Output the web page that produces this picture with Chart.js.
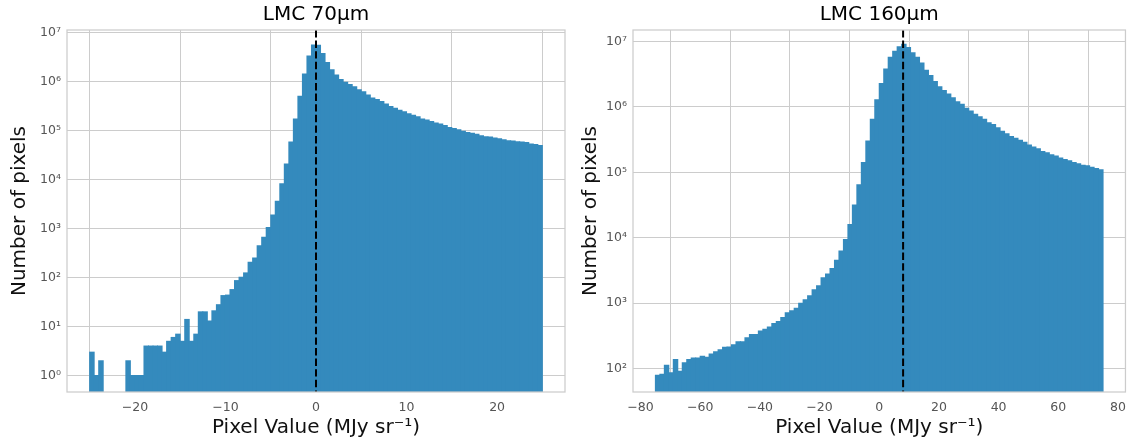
<!DOCTYPE html>
<html>
<head>
<meta charset="utf-8">
<script src="https://cdn.jsdelivr.net/npm/chart.js@4.4.1/dist/chart.umd.min.js"></script>
<style>
  html, body { margin: 0; padding: 0; background: #fff; }
  #wrap { position: relative; width: 1134px; height: 444px; }
  .box { position: absolute; top: 0; width: 567px; height: 444px; }
</style>
</head>
<body>
<div id="wrap">
  <div class="box" style="left:0"><canvas id="c70" width="567" height="444"></canvas></div>
  <div class="box" style="left:567px"><canvas id="c160" width="567" height="444"></canvas></div>
</div>
<script>
// LMC 70um histogram: 100 bins of 0.5 MJy/sr from -25 to 25
const binStart70 = -25;
const binWidth70 = 0.5;
const counts70 = [
  3, 1, 2, 0, 0, 0, 0, 0, 2, 1,
  1, 1, 4, 4, 4, 4, 3, 5, 6, 7,
  5, 14, 5, 7, 20, 20, 13, 21, 28, 43,
  44, 57, 87, 102, 125, 207, 253, 450, 665, 1060,
  1900, 3650, 8300, 21000, 59000, 174000, 510000, 1450000, 3400000, 5700000,
  5600000, 3800000, 2500000, 1780000, 1380000, 1120000, 980000, 890000, 794000, 692000,
  631000, 537000, 468000, 437000, 398000, 355000, 316000, 288000, 263000, 245000,
  224000, 209000, 195000, 174000, 166000, 155000, 145000, 138000, 129000, 117000,
  112000, 105000, 98000, 93000, 89000, 85000, 79000, 76000, 75000, 71000,
  69000, 66000, 63000, 62000, 60000, 59000, 57500, 54000, 52500, 50000
];
const median70 = 0;
const xTicks70 = [-20, -10, 0, 10, 20];
const yTicks70 = [1, 10, 100, 1e3, 1e4, 1e5, 1e6, 1e7];

// LMC 160um histogram: 100 bins of 1.5 MJy/sr from -75 to 75
const binStart160 = -75;
const binWidth160 = 1.5;
const counts160 = [
  79, 82, 113, 87, 138, 91, 123, 138, 145, 145,
  155, 150, 167, 181, 195, 212, 214, 233, 259, 259,
  296, 334, 334, 376, 399, 433, 489, 524, 606, 714,
  768, 836, 1000, 1130, 1300, 1610, 1850, 2450, 2800, 3400,
  4550, 6300, 9400, 16000, 31600, 64500, 141000, 302000, 646000, 1290000,
  2290000, 3800000, 5750000, 7080000, 8320000, 9120000, 8130000, 6760000, 5750000, 4680000,
  3630000, 3020000, 2450000, 2040000, 1780000, 1580000, 1380000, 1200000, 1100000, 955000,
  871000, 776000, 708000, 646000, 575000, 537000, 479000, 427000, 389000, 355000,
  331000, 309000, 288000, 263000, 245000, 229000, 209000, 200000, 186000, 178000,
  166000, 158000, 151000, 141000, 135000, 129000, 126000, 120000, 115000, 110000
];
const median160 = 8;
const xTicks160 = [-80, -60, -40, -20, 0, 20, 40, 60, 80];
const yTicks160 = [100, 1e3, 1e4, 1e5, 1e6, 1e7];

const barColor = '#348ABD';
const gridColor = '#cccccc';
const tickColor = '#555555';
const fontFamily = '"DejaVu Sans", sans-serif';
const SUP = {'0':'⁰','1':'¹','2':'²','3':'³','4':'⁴','5':'⁵','6':'⁶','7':'⁷','8':'⁸','9':'⁹','-':'⁻'};

function powLabel(v) {
  const e = String(Math.round(Math.log10(v)));
  return '10' + e.split('').map(ch => SUP[ch]).join('');
}

// frame, dashed median line and the panel title
const decor = {
  id: 'decor',
  afterDatasetsDraw(chart, args, opts) {
    const {ctx, chartArea: a} = chart;
    const px = chart.scales.x.getPixelForValue(opts.median);
    ctx.save();
    ctx.strokeStyle = '#000';
    ctx.lineWidth = 2;
    ctx.setLineDash([7.4, 3.2]);
    ctx.beginPath();
    ctx.moveTo(px, a.top);
    ctx.lineTo(px, a.bottom);
    ctx.stroke();
    ctx.setLineDash([]);
    ctx.strokeStyle = gridColor;
    ctx.lineWidth = 1.25;
    ctx.strokeRect(a.left, a.top, a.right - a.left, a.bottom - a.top);
    ctx.fillStyle = '#000';
    ctx.font = '20px ' + fontFamily;
    ctx.textAlign = 'center';
    ctx.textBaseline = 'middle';
    ctx.fillText(opts.title, (a.left + a.right) / 2, 15);
    ctx.restore();
  }
};

function makeChart(id, cfg) {
  const points = cfg.counts.map((c, i) => ({
    x: cfg.binStart + cfg.binWidth * (i + 0.5),
    y: c || null
  }));
  return new Chart(document.getElementById(id), {
    type: 'bar',
    data: {
      datasets: [{
        data: points,
        backgroundColor: barColor,
        borderWidth: 0,
        inflateAmount: 0.5,
        barPercentage: 1,
        categoryPercentage: 1
      }]
    },
    options: {
      responsive: false,
      animation: false,
      layout: { padding: { top: 30, right: cfg.padRight, left: 0, bottom: 0 } },
      plugins: {
        legend: { display: false },
        tooltip: { enabled: false },
        decor: { median: cfg.median, title: cfg.title }
      },
      scales: {
        x: {
          type: 'linear',
          offset: false,
          min: cfg.xMin,
          max: cfg.xMax,
          grid: { color: gridColor, lineWidth: 1, drawTicks: false },
          border: { display: false },
          afterBuildTicks: s => { s.ticks = cfg.xTicks.map(v => ({ value: v })); },
          afterFit: s => { s.height = 52; },
          ticks: {
            color: tickColor,
            padding: 8,
            font: { family: fontFamily, size: 12.5 },
            maxRotation: 0,
            callback: v => String(v).replace('-', '\u2212')
          },
          title: {
            display: true,
            text: 'Pixel Value (MJy sr\u207B\u00B9)',
            color: '#111',
            font: { family: fontFamily, size: 20 },
            padding: { top: 0, bottom: 4 }
          }
        },
        y: {
          type: 'logarithmic',
          min: cfg.yMin,
          max: cfg.yMax,
          grid: { color: gridColor, lineWidth: 1, drawTicks: false },
          border: { display: false },
          afterBuildTicks: s => { s.ticks = cfg.yTicks.map(v => ({ value: v })); },
          afterFit: s => { s.width = cfg.yWidth; },
          ticks: {
            color: tickColor,
            padding: 6,
            font: { family: fontFamily, size: 12.5 },
            callback: v => powLabel(v)
          },
          title: {
            display: true,
            text: 'Number of pixels',
            color: '#111',
            font: { family: fontFamily, size: 20 },
            padding: { top: cfg.yTitlePad, bottom: 0 }
          }
        }
      }
    },
    plugins: [decor]
  });
}

makeChart('c70', {
  counts: counts70, binStart: binStart70, binWidth: binWidth70,
  median: median70, title: 'LMC 70\u03BCm',
  xMin: -27.5, xMax: 27.5, xTicks: xTicks70,
  yMin: 0.46, yMax: 1.15e7, yTicks: yTicks70,
  yWidth: 67, yTitlePad: 8, padRight: 2
});

makeChart('c160', {
  counts: counts160, binStart: binStart160, binWidth: binWidth160,
  median: median160, title: 'LMC 160\u03BCm',
  xMin: -82.5, xMax: 82.5, xTicks: xTicks160,
  yMin: 44, yMax: 1.5e7, yTicks: yTicks160,
  yWidth: 66, yTitlePad: 12, padRight: 3
});
</script>
</body>
</html>
